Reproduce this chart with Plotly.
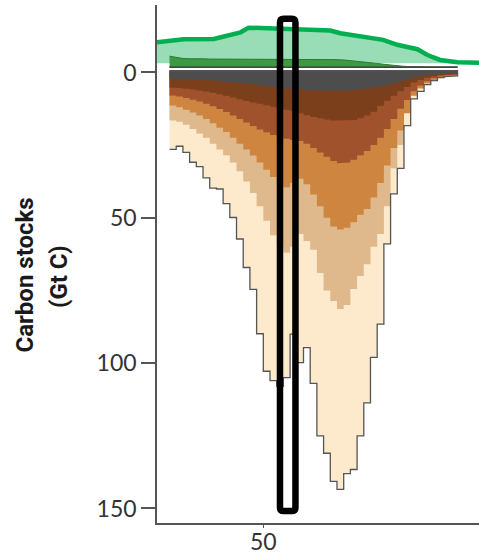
import plotly.graph_objects as go

# ---------------- data ----------------
# 1-degree latitude bands: lower edge of each band
lat_bins = list(range(36, 79))

# cumulative soil carbon stock (Gt C) down to the bottom of each depth layer
cum_gray = [2.2, 2.3, 2.4, 2.5, 2.6, 2.7, 2.8, 3.0, 3.2, 3.4,
            3.6, 3.8, 4.1, 4.4, 4.7, 5.0, 5.3, 5.5, 5.7, 5.9,
            6.0, 6.2, 6.3, 6.4, 6.4, 6.4, 6.2, 6.0, 5.8, 5.5,
            5.2, 4.8, 4.4, 3.8, 3.0, 2.4, 1.8, 1.4, 1.0, 0.8,
            0.6, 0.5, 0.4]
cum_darkbrown = [5.2, 5.4, 5.6, 5.9, 6.2, 6.6, 7.0, 7.5, 8.0, 8.6,
                 9.2, 9.8, 10.3, 10.8, 11.3, 11.8, 12.3, 12.8, 13.3, 14.0,
                 14.7, 15.3, 15.8, 16.2, 16.5, 16.6, 16.6, 16.4, 15.8, 14.8,
                 13.5, 11.5, 9.7, 8.0, 6.5, 5.0, 3.5, 2.6, 1.8, 1.3,
                 0.9, 0.7, 0.6]
cum_sienna = [7.9, 8.3, 8.8, 9.4, 10.0, 10.8, 11.6, 12.6, 13.6, 14.8,
              16.0, 17.2, 18.4, 19.6, 20.6, 21.5, 22.2, 22.8, 23.2, 23.6,
              24.5, 26.0, 27.5, 29.0, 30.5, 31.2, 31.0, 30.0, 28.5, 27.0,
              25.0, 22.5, 19.5, 16.0, 12.5, 9.5, 6.5, 4.5, 3.0, 2.0,
              1.4, 1.0, 0.8]
cum_orange = [11.4, 12.0, 12.8, 13.8, 14.8, 16.0, 17.5, 19.0, 20.5, 22.5,
              24.5, 26.5, 28.6, 31.0, 33.5, 36.0, 38.5, 39.5, 38.0, 36.6,
              38.5, 42.0, 46.0, 50.0, 53.0, 54.0, 53.4, 51.5, 49.0, 47.0,
              43.0, 38.0, 32.0, 26.0, 20.0, 14.0, 8.0, 5.5, 3.8, 2.6,
              1.8, 1.3, 1.1]
cum_tan = [16.5, 17.0, 18.0, 19.5, 21.0, 22.5, 24.5, 26.5, 28.5, 31.0,
           34.0, 37.5, 41.5, 46.0, 51.0, 56.0, 60.0, 62.0, 60.0, 55.6,
           58.0, 61.0, 69.0, 75.0, 78.6, 81.4, 80.0, 74.5, 70.0, 66.0,
           60.0, 55.6, 46.0, 33.0, 25.0, 11.0, 5.6, 4.0, 2.8, 2.0,
           1.5, 1.2, 1.0]
cum_cream = [26.5, 25.4, 27.5, 30.9, 32.4, 36.3, 39.8, 40.1, 45.1, 49.9,
             57.3, 67.1, 74.6, 89.9, 102.8, 106.0, 108.0, 105.0, 90.0, 99.8,
             94.7, 107.0, 125.0, 131.0, 140.7, 143.4, 138.0, 136.6, 125.0, 113.7,
             98.0, 86.6, 59.0, 41.8, 33.0, 18.3, 9.1, 6.5, 4.2, 2.8,
             1.8, 1.4, 1.2]

# vegetation above ground (Gt C): total (green line) and dark-green part
veg_lat = [34.13, 38.1, 42.6, 45.1, 46.6, 47.8, 52.1, 60.0, 61.5, 64.0,
           67.9, 70.0, 73.0, 74.5, 76.4, 79.0, 82.2]
veg_total = [10.4, 11.4, 11.5, 13.1, 13.8, 15.4, 15.1, 14.4, 13.5, 12.6,
             11.2, 9.5, 8.0, 6.0, 4.3, 3.5, 3.3]
dark_lat = list(range(36, 80))
dark_veg = [3.8, 3.3, 3.0, 2.9, 3.0, 2.9, 2.8, 2.8, 2.7, 2.7,
            2.8, 2.7, 2.7, 2.6, 2.7, 2.7, 2.6, 2.6, 2.7, 2.7,
            2.7, 2.8, 2.8, 2.7, 2.7, 2.6, 2.5, 2.3, 2.1, 1.9,
            1.6, 1.3, 1.0, 0.7, 0.5, 0.3, 0.2, 0.1, 0.1, 0.05,
            0.05, 0.05, 0.05, 0.05]

y_ticks = [0, 50, 100, 150]
x_ticks = [50]

# ---------------- style ----------------
SOIL_TOP = -0.6
DARK_BASE = -1.8
LIGHT_BASE = -3.2
layer_colors = ["#fde9cc", "#dfb98b", "#cd8540", "#a0522d", "#7b3f1c", "#4d4d4d"]
layers = [cum_cream, cum_tan, cum_orange, cum_sienna, cum_darkbrown, cum_gray]


def step_path(edges_lo, values):
    xs, ys = [], []
    for lo, v in zip(edges_lo, values):
        xs += [lo, lo + 1]
        ys += [v, v]
    return xs, ys


fig = go.Figure()

for vals, col in zip(layers, layer_colors):
    xs, ys = step_path(lat_bins, vals)
    px = xs + [xs[-1], xs[0]]
    py = ys + [SOIL_TOP, SOIL_TOP]
    fig.add_trace(go.Scatter(x=px, y=py, mode="lines", fill="toself",
                             fillcolor=col, line=dict(width=0),
                             hoverinfo="skip", showlegend=False))

# outline of the soil profile
xs, ys = step_path(lat_bins, cum_cream)
fig.add_trace(go.Scatter(x=xs + [xs[-1], xs[0]], y=ys + [SOIL_TOP, SOIL_TOP],
                         mode="lines", line=dict(color="#555555", width=1.3),
                         hoverinfo="skip", showlegend=False))

# light green vegetation fill
vy = [-v for v in veg_total]
fig.add_trace(go.Scatter(x=veg_lat + [veg_lat[-1], veg_lat[0]],
                         y=vy + [LIGHT_BASE, LIGHT_BASE],
                         mode="lines", fill="toself", fillcolor="#98ddb6",
                         line=dict(width=0), hoverinfo="skip", showlegend=False))

# dark green part
dy = [DARK_BASE - v for v in dark_veg]
fig.add_trace(go.Scatter(x=dark_lat + [dark_lat[-1], dark_lat[0]],
                         y=dy + [DARK_BASE, DARK_BASE],
                         mode="lines", fill="toself", fillcolor="#3d9944",
                         line=dict(width=1, color="#2c7a33"),
                         hoverinfo="skip", showlegend=False))
fig.add_trace(go.Scatter(x=[dark_lat[0], dark_lat[-1]], y=[DARK_BASE, DARK_BASE],
                         mode="lines", line=dict(color="#444444", width=1.6),
                         hoverinfo="skip", showlegend=False))

# green vegetation line
fig.add_trace(go.Scatter(x=veg_lat, y=vy, mode="lines",
                         line=dict(color="#00b050", width=4.5),
                         hoverinfo="skip", showlegend=False))

# highlight rectangle (rounded corners)
x0, x1, y0, y1 = 52.49, 54.8, -18.5, 150.9
rx, ry = 0.55, 1.3
path = (f"M {x0+rx},{y0} L {x1-rx},{y0} Q {x1},{y0} {x1},{y0+ry} "
        f"L {x1},{y1-ry} Q {x1},{y1} {x1-rx},{y1} L {x0+rx},{y1} "
        f"Q {x0},{y1} {x0},{y1-ry} L {x0},{y0+ry} Q {x0},{y0} {x0+rx},{y0} Z")
fig.add_shape(type="path", path=path, xref="x", yref="y",
              line=dict(color="black", width=6.5), layer="above")

tick_font = dict(family="Lato, Roboto, sans-serif", size=23, color="#333333")

fig.update_layout(
    width=479, height=556,
    margin=dict(l=157, r=0, t=5, b=33),
    paper_bgcolor="white", plot_bgcolor="white",
    xaxis=dict(range=[34.13, 82.2], tickvals=x_ticks, ticktext=[str(t) for t in x_ticks],
               ticks="outside", ticklen=3, tickwidth=1.3, tickcolor="#555555",
               ticklabelstandoff=-5,
               showline=True, linecolor="#555555", linewidth=1.5,
               showgrid=False, zeroline=False, tickfont=tick_font, automargin=False),
    yaxis=dict(range=[155.0, -23.2], tickvals=y_ticks, ticktext=[str(t) for t in y_ticks],
               ticks="outside", ticklen=14, tickwidth=1.5, tickcolor="#555555",
               showline=True, linecolor="#555555", linewidth=1.5,
               showgrid=False, zeroline=False, tickfont=tick_font, automargin=False),
    annotations=[
        dict(text="<b>Carbon stocks</b>", xref="paper", yref="paper",
             x=(24 - 157) / 322, y=1 - (275.5 - 5) / 518, textangle=-90,
             showarrow=False, xanchor="center", yanchor="middle",
             font=dict(family="Roboto, sans-serif", size=24, color="#1a1a1a")),
        dict(text="<b>(Gt C)</b>", xref="paper", yref="paper",
             x=(58.5 - 157) / 322, y=1 - (276.5 - 5) / 518, textangle=-90,
             showarrow=False, xanchor="center", yanchor="middle",
             font=dict(family="Roboto, sans-serif", size=24, color="#1a1a1a")),
    ],
)

fig.write_html("out.html", config={"displayModeBar": False},
               post_script="document.body.style.margin='0px';document.body.style.overflow='hidden';")
